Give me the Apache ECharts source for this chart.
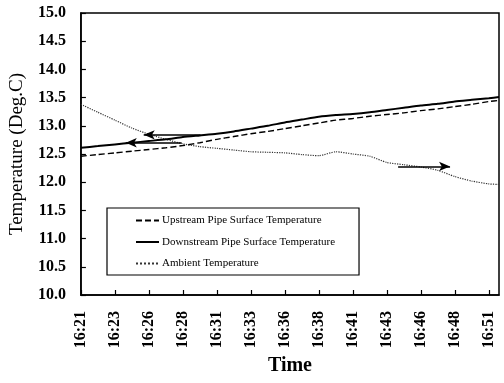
<!DOCTYPE html>
<html>
<head>
<meta charset="utf-8">
<script src="https://cdn.jsdelivr.net/npm/echarts@6/dist/echarts.min.js"></script>
<style>
  html, body { margin: 0; padding: 0; background: #fff; }
  #chart { width: 504px; height: 383px; }
</style>
</head>
<body>
<div id="chart"></div>
<script>
// Sample times (every 1 min 15 s) from 16:21:00
const sampleTimes = [
  '16:21:00', '16:22:15', '16:23:30', '16:24:45', '16:26:00', '16:27:15', '16:28:30',
  '16:29:45', '16:31:00', '16:32:15', '16:33:30', '16:34:45', '16:36:00', '16:37:15',
  '16:38:30', '16:39:45', '16:41:00', '16:42:15', '16:43:30', '16:44:45', '16:46:00',
  '16:47:15', '16:48:30', '16:49:45', '16:51:00', '16:51:45'
];

// Temperatures in Deg.C
const upstreamTemp = [
  12.46, 12.49, 12.52, 12.55, 12.58, 12.61, 12.65, 12.70, 12.76, 12.81, 12.86, 12.90, 12.95,
  13.00, 13.05, 13.10, 13.13, 13.17, 13.20, 13.23, 13.27, 13.30, 13.34, 13.38, 13.43, 13.45
];
const downstreamTemp = [
  12.61, 12.64, 12.67, 12.70, 12.73, 12.76, 12.80, 12.83, 12.86, 12.90, 12.95, 13.00, 13.06,
  13.11, 13.16, 13.19, 13.21, 13.24, 13.28, 13.32, 13.36, 13.39, 13.43, 13.46, 13.49, 13.51
];
const ambientTemp = [
  13.38, 13.24, 13.10, 12.96, 12.85, 12.76, 12.68, 12.63, 12.60, 12.57, 12.54, 12.53, 12.52,
  12.49, 12.47, 12.54, 12.50, 12.46, 12.35, 12.31, 12.27, 12.21, 12.10, 12.02, 11.97, 11.96
];

const seriesNames = [
  'Upstream Pipe Surface Temperature',
  'Downstream Pipe Surface Temperature',
  'Ambient Temperature'
];

// Axis arrows: [headTime, tailTime, temperature] (time in minutes after 16:21)
const arrowNotes = [
  [4.62, 8.80, 12.84],
  [3.30, 7.41, 12.70],
  [27.15, 23.33, 12.28]
];

const startMin = 16 * 60 + 21;
function toMinutes(s) {
  const p = s.split(':').map(Number);
  return p[0] * 60 + p[1] + p[2] / 60 - startMin;
}
function pairs(values) {
  return sampleTimes.map((t, i) => [toMinutes(t), values[i]]);
}
function clockLabel(v) {
  const m = Math.floor(startMin + v + 1e-6);
  const h = Math.floor(m / 60);
  const mm = m % 60;
  return h + ':' + (mm < 10 ? '0' : '') + mm;
}

const FONT = 'Liberation Serif';
const chart = echarts.init(document.getElementById('chart'), null, { renderer: 'canvas' });

chart.setOption({
  animation: false,
  backgroundColor: '#fff',
  textStyle: { fontFamily: FONT, color: '#000' },
  grid: {
    left: 80, right: 5, top: 13, bottom: 88,
    show: true, borderColor: '#000', borderWidth: 1.5, backgroundColor: 'transparent'
  },
  legend: {
    orient: 'vertical',
    left: 107, top: 208,
    padding: [7, 24, 6, 28],
    itemWidth: 23, itemHeight: 12, itemGap: 10.5,
    borderColor: '#000', borderWidth: 1.2,
    backgroundColor: '#fff',
    itemStyle: { opacity: 0, borderWidth: 0 },
    textStyle: { fontFamily: FONT, fontSize: 11, color: '#000', padding: [0, 0, 0, -2] },
    data: seriesNames
  },
  xAxis: {
    type: 'value',
    min: 0, max: 30.75, interval: 2.5,
    name: 'Time',
    nameLocation: 'middle',
    nameGap: 60,
    nameTextStyle: { fontFamily: FONT, fontSize: 20, fontWeight: 'bold', color: '#000' },
    axisLine: { show: true, lineStyle: { color: '#000', width: 1.5 } },
    axisTick: { show: true, inside: true, length: 5, lineStyle: { color: '#000', width: 1.2 } },
    splitLine: { show: false },
    axisLabel: {
      rotate: 90, margin: 16, fontSize: 16, fontWeight: 'bold', color: '#000', fontFamily: FONT,
      showMaxLabel: false,
      formatter: clockLabel
    }
  },
  yAxis: {
    type: 'value',
    min: 10, max: 15, interval: 0.5,
    name: 'Temperature (Deg.C)',
    nameLocation: 'middle',
    nameGap: 41,
    nameTextStyle: { fontFamily: FONT, fontSize: 19, color: '#000' },
    axisLine: { show: true, lineStyle: { color: '#000', width: 1.5 } },
    axisTick: { show: true, inside: true, length: 5, lineStyle: { color: '#000', width: 1.2 } },
    splitLine: { show: false },
    axisLabel: {
      margin: 15, fontSize: 16, fontWeight: 'bold', color: '#000', fontFamily: FONT,
      formatter: v => v.toFixed(1)
    }
  },
  series: [
    {
      name: seriesNames[0],
      type: 'line',
      data: pairs(upstreamTemp),
      symbol: 'none',
      smooth: 0.2,
      color: '#000',
      lineStyle: { color: '#000', width: 1.4, type: [6, 3] },
      z: 3
    },
    {
      name: seriesNames[1],
      type: 'line',
      data: pairs(downstreamTemp),
      symbol: 'none',
      smooth: 0.2,
      color: '#000',
      lineStyle: { color: '#000', width: 2 },
      z: 3,
      markLine: {
        silent: true,
        animation: false,
        label: { show: false },
        symbolSize: [7, 11],
        lineStyle: { color: '#000', width: 1.6, type: 'solid' },
        data: arrowNotes.map(a => [
          { coord: [a[0], a[2]], symbol: 'arrow' },
          { coord: [a[1], a[2]], symbol: 'none' }
        ])
      }
    },
    {
      name: seriesNames[2],
      type: 'line',
      data: pairs(ambientTemp),
      symbol: 'none',
      smooth: 0.2,
      color: '#333',
      lineStyle: { color: '#333', width: 1.2, type: 'dotted' },
      z: 2
    }
  ]
});
</script>
</body>
</html>
